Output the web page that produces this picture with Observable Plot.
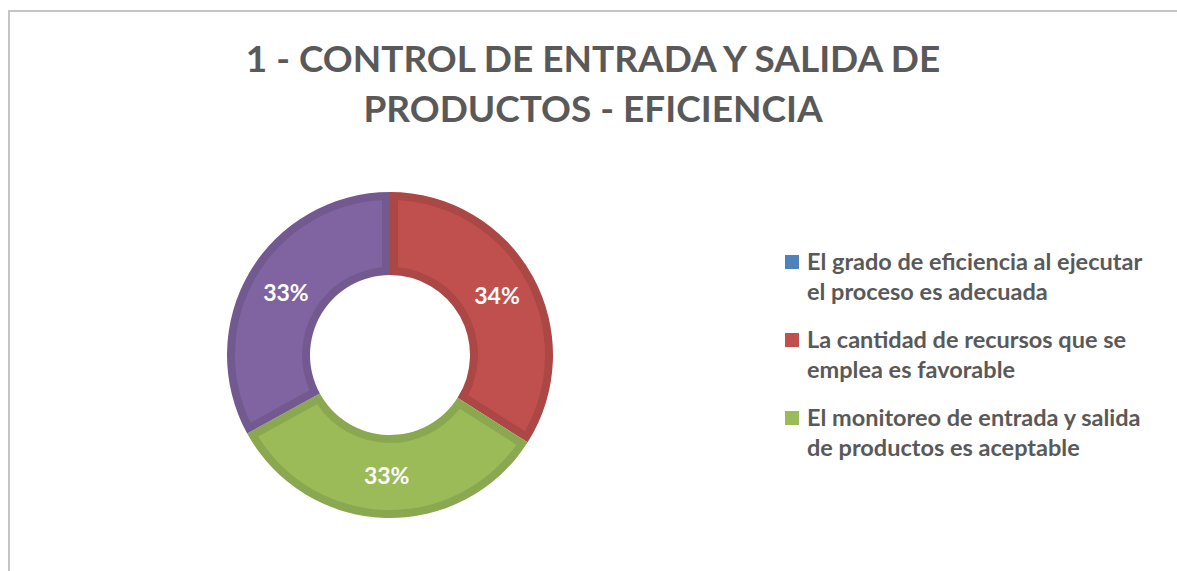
<!DOCTYPE html>
<html>
<head>
<meta charset="utf-8">
<script src="https://cdn.jsdelivr.net/npm/d3@7"></script>
<script src="https://cdn.jsdelivr.net/npm/@observablehq/plot@0.6"></script>
<style>
  html, body { margin: 0; padding: 0; background: #fff; }
  body { width: 1177px; height: 571px; overflow: hidden; position: relative; font-family: Lato, "Open Sans", sans-serif; }
  #frame { position: absolute; left: 8px; top: 10px; width: 1300px; height: 700px; border: 2px solid #c4c4c4; box-sizing: border-box; }
  #title { position: absolute; left: 0; width: 1186px; top: 33px; text-align: center; color: #595959; font-weight: bold; font-size: 37px; line-height: 50px; }
  #chart { position: absolute; left: 0; top: 140px; }
  #legend { position: absolute; left: 785px; top: 246px; }
  .item { display: flex; align-items: flex-start; margin-bottom: 18px; }
  .sw { width: 14px; height: 14px; margin-top: 9px; margin-right: 8px; flex: none; }
  .lt { font-size: 23.5px; line-height: 30px; font-weight: bold; color: #595959; white-space: nowrap; }
</style>
</head>
<body>
<div id="frame"></div>
<div id="title">1 - CONTROL DE ENTRADA Y SALIDA DE<br>PRODUCTOS - EFICIENCIA</div>
<div id="chart"></div>
<div id="legend"></div>
<script>
// ---- data ----
const categories = [
  "El grado de eficiencia al ejecutar el proceso es adecuada",
  "La cantidad de recursos que se emplea es favorable",
  "El monitoreo de entrada y salida de productos es aceptable",
  ""
];
const legendLines = [
  ["El grado de eficiencia al ejecutar", "el proceso es adecuada"],
  ["La cantidad de recursos que se", "emplea es favorable"],
  ["El monitoreo de entrada y salida", "de productos es aceptable"]
];
const values = [0, 34, 33, 33];
const percentLabels = ["0%", "34%", "33%", "33%"];
const fillColors = ["#4F81BD", "#C0504D", "#9BBB59", "#8064A2"];
const edgeColors = ["#46729f", "#ab4744", "#8aa84f", "#725a91"];

// ---- build ----
const innerFrac = 80 / 163;
const pie = d3.pie().sort(null).value(d => d.value)(
  categories.map((c, i) => ({category: c, value: values[i], label: percentLabels[i], i}))
);
const slices = pie.filter(a => a.value > 0);
const labelFrac = (1 + innerFrac) / 2;
const labelData = slices.map(a => {
  const m = (a.startAngle + a.endAngle) / 2;
  return {x: Math.sin(m) * labelFrac, y: Math.cos(m) * labelFrac, text: a.data.label};
});

function ringMark(index, scales) {
  const cx = scales.x(0), cy = scales.y(0);
  const R = scales.x(1) - cx;
  const ro = R, ri = R * innerFrac;
  const b = 8;
  const g = d3.create("svg:g").attr("transform", `translate(${cx},${cy})`);
  const outer = d3.arc().innerRadius(ri).outerRadius(ro);
  const inner = d3.arc().innerRadius(ri + b).outerRadius(ro - b).padRadius(ro).padAngle(2 * b / ro);
  for (const a of slices) {
    g.append("path").attr("d", outer(a)).attr("fill", edgeColors[a.data.i]);
    g.append("path").attr("d", inner(a)).attr("fill", fillColors[a.data.i]);
  }
  return g.node();
}

const W = 780, H = 431;
const plot = Plot.plot({
  width: W, height: H,
  marginLeft: 227, marginRight: 227, marginTop: 52, marginBottom: 53,
  x: {domain: [-1, 1], axis: null},
  y: {domain: [-1, 1], axis: null},
  style: {background: "none"},
  marks: [
    ringMark,
    Plot.text(labelData, {x: "x", y: "y", text: "text", fill: "white", fontSize: 23, fontWeight: "bold", fontFamily: "Lato, sans-serif"})
  ]
});
document.getElementById("chart").appendChild(plot);

const legend = d3.select("#legend");
legendLines.forEach((lines, i) => {
  const it = legend.append("div").attr("class", "item");
  it.append("div").attr("class", "sw").style("background", fillColors[i]);
  it.append("div").attr("class", "lt").html(lines.join("<br>"));
});
</script>
</body>
</html>
